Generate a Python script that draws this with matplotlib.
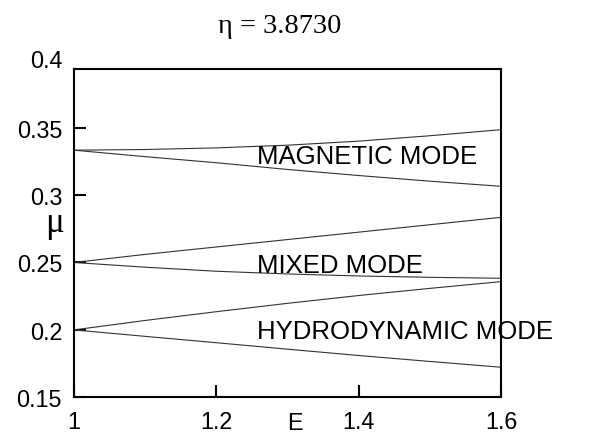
import numpy as np
import matplotlib
matplotlib.use('Agg')
import matplotlib.pyplot as plt
from matplotlib.ticker import FormatStrFormatter

# PARAMETERS / data
E = [1.0, 1.1, 1.2, 1.3, 1.4, 1.5, 1.6]

mag_upper = [0.3333, 0.3338, 0.3350, 0.3370, 0.3400, 0.3440, 0.3485]
mag_lower = [0.3333, 0.3285, 0.3240, 0.3190, 0.3145, 0.3103, 0.3065]
mix_upper = [0.2500, 0.2560, 0.2615, 0.2670, 0.2725, 0.2780, 0.2835]
mix_lower = [0.2500, 0.2465, 0.2435, 0.2415, 0.2400, 0.2390, 0.2383]
hyd_upper = [0.2000, 0.2070, 0.2135, 0.2197, 0.2255, 0.2308, 0.2358]
hyd_lower = [0.2000, 0.1952, 0.1905, 0.1857, 0.1810, 0.1766, 0.1723]

curves = [mag_upper, mag_lower, mix_upper, mix_lower, hyd_upper, hyd_lower]

mode_labels = ['MAGNETIC MODE', 'MIXED MODE', 'HYDRODYNAMIC MODE']
mode_pos = [(1.257, 0.3236), (1.257, 0.2432), (1.257, 0.1938)]

x_ticks = [1.0, 1.2, 1.4, 1.6]
y_ticks = [0.15, 0.2, 0.25, 0.3, 0.35]

SANS = 'Liberation Sans'
SERIF = 'Liberation Serif'
TICK_FS = 16.8

#%%
fig = plt.figure(figsize=(6.15, 4.39), dpi=100)
ax = fig.add_axes([0.1203, 0.0927, 0.6943, 0.7478])

for c in curves:
    ax.plot(E, c, color='#333333', linewidth=0.8)

for txt, (xx, yy) in zip(mode_labels, mode_pos):
    ax.text(xx, yy, txt, fontsize=18.5, family=SANS, va='baseline', ha='left')

ax.set_xlim(1.0, 1.6)
ax.set_ylim(0.15, 0.3935)
ax.set_xticks(x_ticks)
ax.set_yticks(y_ticks)
ax.xaxis.set_major_formatter(FormatStrFormatter('%g'))
ax.yaxis.set_major_formatter(FormatStrFormatter('%g'))
ax.tick_params(direction='in', length=8.5, width=1.5, labelsize=TICK_FS)
ax.tick_params(axis='y', pad=8.6)
ax.tick_params(axis='x', pad=9)
for lab in ax.get_xticklabels() + ax.get_yticklabels():
    lab.set_family(SANS)
for s in ax.spines.values():
    s.set_linewidth(1.5)

# top label sits above the frame in the reference
ax.text(-0.028, 0.4, '0.4', transform=ax.get_yaxis_transform(), ha='right',
        va='center', fontsize=TICK_FS, family=SANS, clip_on=False)

fig.text(280 / 615, 1 - 33 / 439, r'η = 3.8730', family=SERIF, fontsize=20.5,
         ha='center', va='baseline')
fig.text(54 / 615, 1 - 224 / 439, 'μ', family=SERIF, fontsize=25,
         ha='center', va='center')
fig.text(295 / 615, 1 - 430 / 439, 'E', family=SANS, fontsize=TICK_FS,
         ha='center', va='baseline')

fig.savefig('out.png', dpi=100)
